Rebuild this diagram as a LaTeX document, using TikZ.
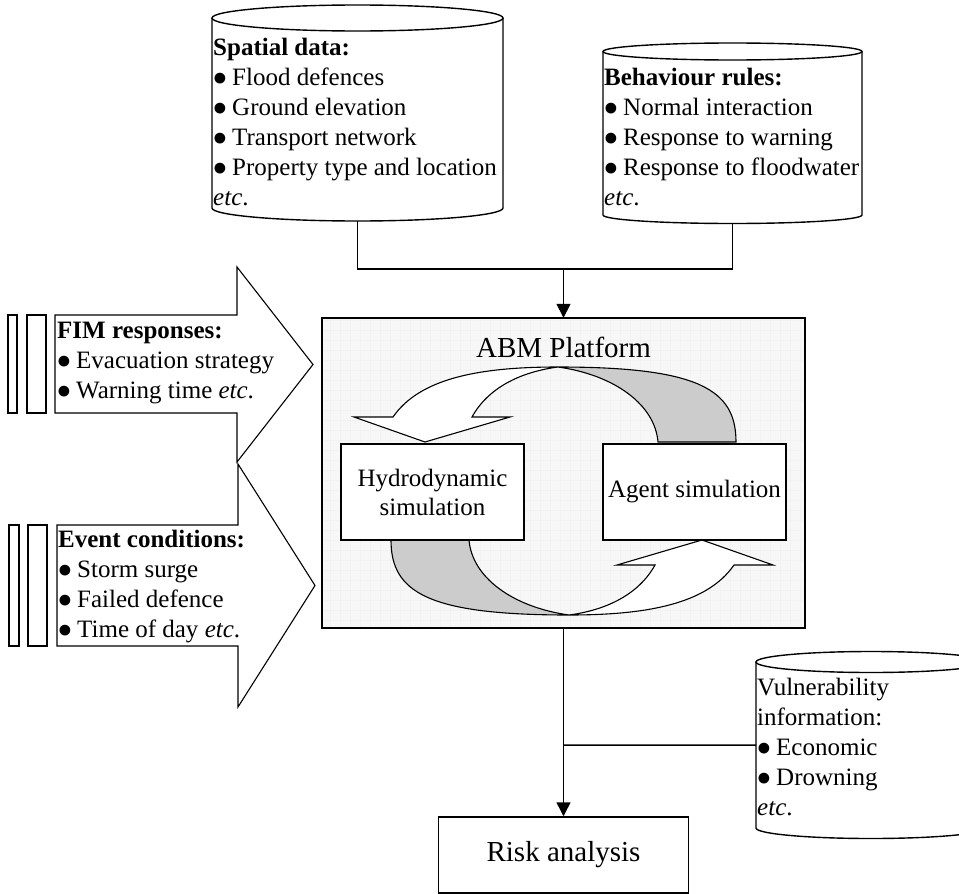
\documentclass[tikz,border=0pt]{standalone}
\usepackage{fontspec}
\usepackage{graphicx}
\setmainfont{Liberation Serif}
\usetikzlibrary{arrows.meta}
\newcommand\bul{\makebox[19pt][l]{\hspace{-1pt}\raisebox{-8.2pt}[0pt][0pt]{\scalebox{1.8}{\textbullet}}}}
\newcommand\fsbody{\fontsize{25}{30}\selectfont}
\newcommand\fshydro{\fontsize{25}{29}\selectfont}
\newcommand\fslarge{\fontsize{29}{34}\selectfont}
\begin{document}
\begin{tikzpicture}[x=1pt,y=-1pt,
  every node/.style={inner sep=0pt},
  cylline/.style={draw=black, line width=1.4pt},
  thinline/.style={draw=black, line width=1.1pt, fill=white},
  conn/.style={draw=black, line width=1.5pt},
  arr/.style={conn, -{Triangle[width=14pt,length=14pt]}},
  listtxt/.style={anchor=base west, font=\fsbody},
  box/.style={draw=black, line width=1.5pt, fill=white, font=\fsbody, align=center},
  gface/.style={fill=black!20, draw=black, line width=1.1pt},
  wface/.style={fill=white, draw=black, line width=1.1pt},
]
\useasboundingbox (0,0) rectangle (959,894);

% ---------- Spatial data cylinder ----------
\node[minimum width=291pt, minimum height=216pt, anchor=north west] (spatial) at (212,5) {};
\path[fill=white] (212,18) -- (212,208) .. controls (212,215.18) and (277.14,221) .. (357.5,221) .. controls (437.86,221) and (503,215.18) .. (503,208) -- (503,18) -- cycle;
\draw[cylline] (212,18) -- (212,208) .. controls (212,215.18) and (277.14,221) .. (357.5,221) .. controls (437.86,221) and (503,215.18) .. (503,208) -- (503,18);
\draw[cylline, fill=white] (357.5,18) ellipse [x radius=145.5, y radius=13];
\node[listtxt] (spatialtxt) at (213,55) {\begin{tabular}[t]{@{}l@{}}\textbf{Spatial data:}\\ \bul Flood defences\\ \bul Ground elevation\\ \bul Transport network\\ \bul Property type and location\\ \textit{etc}.\end{tabular}};

% ---------- Behaviour rules cylinder ----------
\node[minimum width=259pt, minimum height=180.5pt, anchor=north west] (behav) at (603,43) {};
\path[fill=white] (603,51.5) -- (603,215) .. controls (603,219.69) and (660.98,223.5) .. (732.5,223.5) .. controls (804.02,223.5) and (862,219.69) .. (862,215) -- (862,51.5) -- cycle;
\draw[cylline] (603,51.5) -- (603,215) .. controls (603,219.69) and (660.98,223.5) .. (732.5,223.5) .. controls (804.02,223.5) and (862,219.69) .. (862,215) -- (862,51.5);
\draw[cylline, fill=white] (732.5,51.5) ellipse [x radius=129.5, y radius=8.5];
\node[listtxt] (behavtxt) at (604,85) {\begin{tabular}[t]{@{}l@{}}\textbf{Behaviour rules:}\\ \bul Normal interaction\\ \bul Response to warning\\ \bul Response to floodwater\\ \textit{etc}.\end{tabular}};

% ---------- Vulnerability cylinder ----------
\node[minimum width=230pt, minimum height=187pt, anchor=north west] (vuln) at (756,651.5) {};
\path[fill=white] (756,662) -- (756,828) .. controls (756,833.8) and (807.5,838.5) .. (871,838.5) .. controls (934.5,838.5) and (986,833.8) .. (986,828) -- (986,662) -- cycle;
\draw[cylline] (756,662) -- (756,828) .. controls (756,833.8) and (807.5,838.5) .. (871,838.5) .. controls (934.5,838.5) and (986,833.8) .. (986,828) -- (986,662);
\draw[cylline, fill=white] (871,662) ellipse [x radius=115, y radius=10.5];
\node[listtxt] (vulntxt) at (757,695) {\begin{tabular}[t]{@{}l@{}}Vulnerability\\ information:\\ \bul Economic\\ \bul Drowning\\ \textit{etc}.\end{tabular}};

% ---------- Striped block arrows ----------
\draw[thinline] (8,315) rectangle (17,413);
\draw[thinline] (27,315) rectangle (46,413);
\draw[thinline] (55,315) -- (237,315) -- (237,267) -- (313,364.5) -- (237,462) -- (237,413) -- (55,413) -- cycle;
\node[listtxt] (fimtxt) at (57,338) {\begin{tabular}[t]{@{}l@{}}\textbf{FIM responses:}\\ \bul Evacuation strategy\\ \bul Warning time \textit{etc}.\end{tabular}};

\draw[thinline] (9,525) rectangle (19,646);
\draw[thinline] (28,525) rectangle (47,646);
\draw[thinline] (57,525) -- (238,525) -- (238,464) -- (315,585.5) -- (238,707) -- (238,646) -- (57,646) -- cycle;
\node[listtxt] (eventtxt) at (58,547) {\begin{tabular}[t]{@{}l@{}}\textbf{Event conditions:}\\ \bul Storm surge\\ \bul Failed defence\\ \bul Time of day \textit{etc}.\end{tabular}};

% ---------- ABM platform ----------
\node[fill=black!3, minimum width=482pt, minimum height=310pt] (abm) at (563.5,473) {};
\begin{scope}
\clip (323.5,319) rectangle (803.5,627);
\draw[black!5, line width=0.6pt, step=10pt] (322.5,318) grid (804.5,628);
\end{scope}
\draw[line width=1.8pt] (abm.north west) rectangle (abm.south east);
\node[font=\fslarge, anchor=base] (abmlbl) at (563.5,357) {ABM Platform};

% curved arrows (top one, and the same turned half round)
\foreach \ang in {0,180}{
\begin{scope}[rotate around={\ang:(563.5,491)}]
\path[gface] (558,367) .. controls (700,367) and (736,390) .. (736,442) -- (658,442) .. controls (655,405) and (615,375) .. (558,367) -- cycle;
\path[wface] (393,417) .. controls (420,378) and (480,367) .. (558,367) .. controls (520,372) and (488,388) .. (472,417) -- (510,417) -- (425,442) -- (354,417) -- cycle;
\end{scope}
}

\node[box, font=\fshydro, minimum width=183pt, minimum height=96pt] (hydro) at (432.5,492) {Hydrodynamic\\simulation};
\node[box, minimum width=183pt, minimum height=96pt] (agent) at (694.5,492) {Agent simulation};

% ---------- Risk analysis ----------
\node[box, font=\fslarge, minimum width=250pt, minimum height=76pt] (risk) at (563.5,855) {Risk analysis};

% ---------- connectors ----------
\coordinate (join) at (563.5,269);
\draw[conn] (spatial.south) |- (join) -| (behav.south);
\draw[arr] (join) -- (abm.north);
\draw[arr] (abm.south) -- (risk.north);
\coordinate (tap) at (563.5,745);
\draw[conn] (tap) -- (vuln.west);
\end{tikzpicture}
\end{document}
